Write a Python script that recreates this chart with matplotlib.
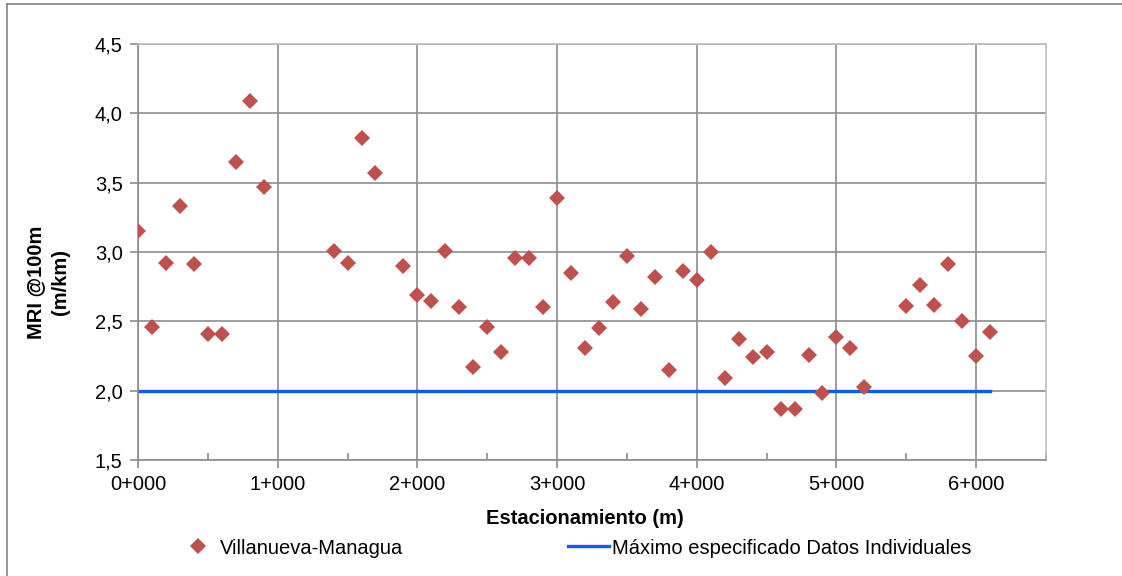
import matplotlib
matplotlib.use('Agg')
import matplotlib.pyplot as plt
from matplotlib.lines import Line2D
from matplotlib.ticker import FuncFormatter, MultipleLocator

plt.rcParams['font.family'] = ['Liberation Sans', 'DejaVu Sans']

# estacionamiento (m) y MRI (m/km)
station = [0, 100, 200, 300, 400, 500, 600, 700, 800, 900,
           1400, 1500, 1600, 1700, 1900, 2000, 2100, 2200, 2300, 2400,
           2500, 2600, 2700, 2800, 2900, 3000, 3100, 3200, 3300, 3400,
           3500, 3600, 3700, 3800, 3900, 4000, 4100, 4200, 4300, 4400,
           4500, 4600, 4700, 4800, 4900, 5000, 5100, 5200,
           5500, 5600, 5700, 5800, 5900, 6000, 6100]
mri = [3.15, 2.46, 2.92, 3.33, 2.91, 2.41, 2.41, 3.65, 4.09, 3.47,
       3.01, 2.92, 3.82, 3.57, 2.90, 2.69, 2.65, 3.01, 2.60, 2.17,
       2.46, 2.28, 2.96, 2.96, 2.60, 3.39, 2.85, 2.31, 2.45, 2.64,
       2.97, 2.59, 2.82, 2.15, 2.86, 2.80, 3.00, 2.09, 2.37, 2.24,
       2.28, 1.87, 1.87, 2.26, 1.98, 2.39, 2.31, 2.03,
       2.61, 2.76, 2.62, 2.91, 2.50, 2.25, 2.42]

limit_x = [0, 6100]
limit_y = [2.0, 2.0]

FS = 14.5
RED = '#C0504D'
BLUE = '#0A5CF2'

fig = plt.figure(figsize=(11.22, 5.76), dpi=100)
ax = fig.add_axes([138 / 1122, 1 - 460 / 576, (1046 - 138) / 1122, (460 - 44) / 576])

ax.plot(limit_x, limit_y, color=BLUE, lw=2.4, zorder=2)
ax.plot(station, mri, 'D', color=RED, markersize=8.5, markeredgewidth=0, zorder=3)

ax.set_xlim(0, 6500)
ax.set_ylim(1.5, 4.5)
ax.xaxis.set_major_locator(MultipleLocator(1000))
ax.xaxis.set_minor_locator(MultipleLocator(500))
ax.yaxis.set_major_locator(MultipleLocator(0.5))
ax.xaxis.set_major_formatter(FuncFormatter(lambda v, p: '%d+000' % round(v / 1000)))
ax.yaxis.set_major_formatter(FuncFormatter(lambda v, p: ('%.1f' % v).replace('.', ',')))

ax.grid(True, which='major', color='#8C8C8C', lw=1.2, zorder=0)
ax.set_axisbelow(True)
ax.tick_params(axis='both', which='major', labelsize=FS, length=6, width=1.2,
               color='#8C8C8C', pad=5)
ax.tick_params(axis='x', which='minor', direction='in', length=5, width=1.2,
               color='#8C8C8C')
for side in ['left', 'bottom']:
    ax.spines[side].set_color('#8C8C8C')
    ax.spines[side].set_linewidth(1.2)
for side in ['top', 'right']:
    ax.spines[side].set_color('#BDBDBD')
    ax.spines[side].set_linewidth(1.2)

ax.set_xlabel('Estacionamiento (m)', fontsize=FS, fontweight='bold')
ax.xaxis.set_label_coords((585 - 138) / (1046 - 138), (460 - 518) / (460 - 44),
                          transform=ax.transAxes)
ax.xaxis.label.set_va('center')
ax.set_ylabel('MRI @100m\n(m/km)', fontsize=FS, fontweight='bold', linespacing=1.35)
ax.yaxis.set_label_coords((48 - 138) / (1046 - 138), (460 - 282) / (460 - 44),
                          transform=ax.transAxes)
ax.yaxis.label.set_va('center')

h_pts = Line2D([], [], marker='D', ls='none', color=RED, markersize=8.5,
               markeredgewidth=0)
h_line = Line2D([], [], color=BLUE, lw=2.4)
leg_y = 1 - 548 / 576
fig.legend([h_pts], ['Villanueva-Managua'], loc='center left',
           bbox_to_anchor=(188 / 1122, leg_y), frameon=False, fontsize=FS,
           handlelength=1.0, handletextpad=0.6, borderpad=0, borderaxespad=0)
fig.legend([h_line], ['Máximo especificado Datos Individuales'], loc='center left',
           bbox_to_anchor=(568 / 1122, leg_y), frameon=False, fontsize=FS,
           handlelength=2.05, handletextpad=0.15, borderpad=0, borderaxespad=0)

# marco exterior
fig.add_artist(Line2D([7 / 1122, 7 / 1122], [0, 1 - 4 / 576], transform=fig.transFigure,
                      color='#8C8C8C', lw=1.3))
fig.add_artist(Line2D([7 / 1122, 1], [1 - 4 / 576, 1 - 4 / 576], transform=fig.transFigure,
                      color='#8C8C8C', lw=1.3))

fig.savefig('out.png', dpi=100)
